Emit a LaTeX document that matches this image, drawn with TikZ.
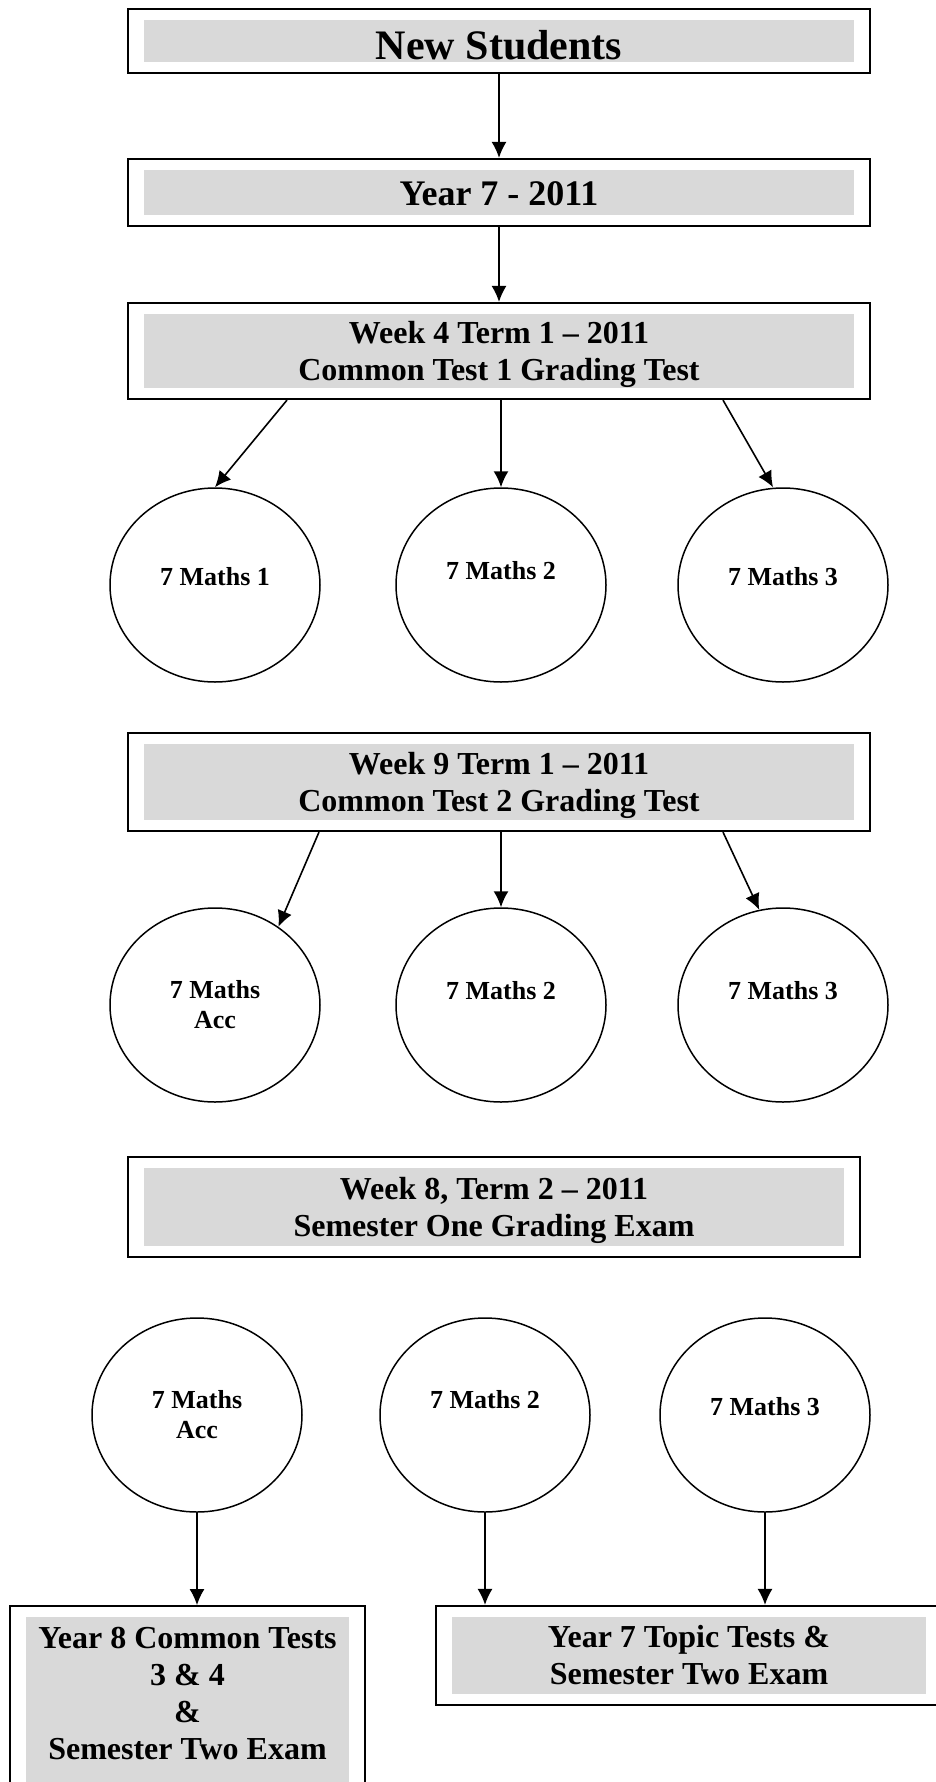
\documentclass[tikz,border=0pt]{standalone}
\usepackage{fontspec}
\setmainfont{Liberation Serif}
\usepackage{tikz}
\usetikzlibrary{arrows.meta,positioning,shapes.geometric,fit}
\definecolor{shade}{RGB}{217,217,217}

\begin{document}
\begin{tikzpicture}[x=1pt,y=-1pt,
  inbox/.style={fill=shade,inner sep=0pt,align=center,font=\bfseries\fontsize{32}{37}\selectfont},
  outbox/.style={draw,line width=1.8pt,inner xsep=16pt,inner ysep=11pt},
  grp/.style={draw,ellipse,line width=1.5pt,minimum width=210pt,minimum height=194pt,inner sep=0pt},
  grplbl/.style={align=center,font=\bfseries\fontsize{26}{30}\selectfont},
  arr/.style={-{Latex[length=16pt,width=15pt]},line width=1.6pt}]
\useasboundingbox (0,0) rectangle (935,1782);

\draw (499,41) node[inbox,minimum width=710pt,minimum height=42pt,text height=38pt,font=\bfseries\fontsize{42}{48}\selectfont] (ns) {New Students};
\node[outbox,fit=(ns)] (nsb) {};
\draw (499,192.5) node[inbox,minimum width=710pt,minimum height=45pt,text height=26pt,font=\bfseries\fontsize{36}{42}\selectfont] (y7) {Year 7 - 2011};
\node[outbox,fit=(y7)] (y7b) {};
\draw (499,351) node[inbox,minimum width=710pt,minimum height=74pt,text depth=0pt] (w4) {Week 4 Term 1 -- 2011\\Common Test 1 Grading Test};
\node[outbox,fit=(w4)] (w4b) {};
\draw (499,782) node[inbox,minimum width=710pt,minimum height=76pt,text depth=0pt] (w9) {Week 9 Term 1 -- 2011\\Common Test 2 Grading Test};
\node[outbox,fit=(w9)] (w9b) {};
\draw (494,1207) node[inbox,minimum width=700pt,minimum height=78pt,text depth=0pt] (w8) {Week 8, Term 2 -- 2011\\Semester One Grading Exam};
\node[outbox,fit=(w8)] (w8b) {};
\draw (187.5,1617) node[inbox,anchor=north,minimum width=323pt,inner ysep=10pt,text depth=25pt] (y8) {Year 8 Common Tests\\3 \& 4\\\&\\Semester Two Exam};
\node[outbox,fit=(y8)] (y8b) {};
\draw (689,1655.5) node[inbox,minimum width=474pt,minimum height=77pt] (y7t) {Year 7 Topic Tests \&\\Semester Two Exam};
\node[outbox,fit=(y7t)] (y7tb) {};

\node[grp] (a1) at (215,585) {};
\node[grp] (a2) at (501,585) {};
\node[grp] (a3) at (783,585) {};
\node[grplbl] at ([yshift=8pt]a1.center) {7 Maths 1};
\node[grplbl] at ([yshift=14pt]a2.center) {7 Maths 2};
\node[grplbl] at ([yshift=8pt]a3.center) {7 Maths 3};

\node[grp] (b1) at (215,1005) {};
\node[grp] (b2) at (501,1005) {};
\node[grp] (b3) at (783,1005) {};
\node[grplbl] at (b1.center) {7 Maths\\Acc};
\node[grplbl] at ([yshift=14pt]b2.center) {7 Maths 2};
\node[grplbl] at ([yshift=14pt]b3.center) {7 Maths 3};

\node[grp] (c1) at (197,1415) {};
\node[grp] (c2) at (485,1415) {};
\node[grp] (c3) at (765,1415) {};
\node[grplbl] at (c1.center) {7 Maths\\Acc};
\node[grplbl] at ([yshift=15pt]c2.center) {7 Maths 2};
\node[grplbl] at ([yshift=8pt]c3.center) {7 Maths 3};

\draw[arr] (nsb) -- (y7b);
\draw[arr] (y7b) -- (w4b);
\draw[arr] ([xshift=-212pt]w4b.south) -- (a1.north);
\draw[arr] (a2 |- w4b.south) -- (a2.north);
\draw[arr] ([xshift=224pt]w4b.south) -- ([xshift=-10pt]a3.north);
\draw[arr] ([xshift=-180pt]w9b.south) -- (b1.51);
\draw[arr] (b2 |- w9b.south) -- (b2.north);
\draw[arr] ([xshift=224pt]w9b.south) -- (b3.104);
\draw[arr] (c1) -- (c1 |- y8b.north);
\draw[arr] (c2) -- (c2 |- y7tb.north);
\draw[arr] (c3) -- (c3 |- y7tb.north);
\end{tikzpicture}
\end{document}
